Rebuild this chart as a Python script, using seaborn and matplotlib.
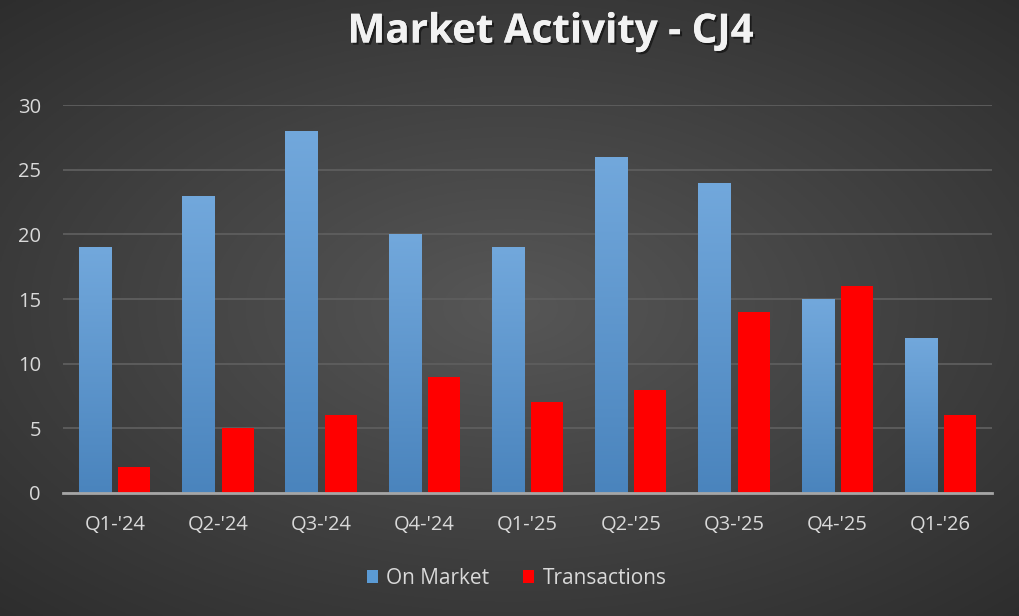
import numpy as np
import pandas as pd
import matplotlib
matplotlib.use("Agg")
import matplotlib.pyplot as plt
import matplotlib.patheffects as pe
from matplotlib.patches import Patch
import seaborn as sns

# Chart data
quarters = ["Q1-'24", "Q2-'24", "Q3-'24", "Q4-'24", "Q1-'25", "Q2-'25", "Q3-'25", "Q4-'25", "Q1-'26"]
on_market = [19, 23, 28, 20, 19, 26, 24, 15, 12]
transactions = [2, 5, 6, 9, 7, 8, 14, 16, 6]

df = pd.DataFrame({
    "Quarter": quarters * 2,
    "Count": on_market + transactions,
    "Series": ["On Market"] * len(quarters) + ["Transactions"] * len(quarters),
})

sns.set_theme(style="white")
plt.rcParams["font.family"] = ["Open Sans", "DejaVu Sans"]

fig = plt.figure(figsize=(10.19, 6.16), dpi=100)

# radial gradient background
bg = fig.add_axes([0, 0, 1, 1], zorder=-10)
yy, xx = np.mgrid[-1:1:300j, -1:1:500j]
r = np.sqrt((xx * 0.85) ** 2 + (yy * 0.9) ** 2)
shade = 0.34 - 0.17 * np.clip(r, 0, 1.3) / 1.3
bg.imshow(np.dstack([shade] * 3), aspect="auto", extent=[0, 1, 0, 1])
bg.axis("off")

ax = fig.add_axes([0.062, 0.1997, 0.9115, 0.6298])
ax.patch.set_alpha(0)

colors = {"On Market": "#5B9BD5", "Transactions": "#FF0000"}
sns.barplot(data=df, x="Quarter", y="Count", hue="Series", palette=colors,
            width=0.76, gap=0.18, saturation=1, ax=ax, legend=False,
            edgecolor="none", linewidth=0)

# vertical gradient on the blue bars
blue = np.array([[0x72, 0xA8, 0xDC], [0x4A, 0x84, 0xBD]]) / 255
grad = np.linspace(0, 1, 256)[:, None, None]
grad_img = blue[0] * (1 - grad) + blue[1] * grad
grad_img = np.repeat(grad_img, 2, axis=1)
for bar in ax.containers[0]:
    x0, y0 = bar.get_x(), bar.get_y()
    w, h = bar.get_width(), bar.get_height()
    im = ax.imshow(grad_img, extent=[x0, x0 + w, y0, y0 + h], aspect="auto",
                   origin="upper", zorder=bar.get_zorder() + 0.1)
    im.set_clip_path(bar)

ax.set_xlim(-0.5, len(quarters) - 0.5)
ax.set_ylim(0, 30)
ax.set_yticks(range(0, 31, 5))
ax.yaxis.grid(True, color="#5E5E5E", linewidth=1.3)
ax.set_axisbelow(True)
for s in ["top", "right", "left"]:
    ax.spines[s].set_visible(False)
ax.spines["bottom"].set_color("#A6A6A6")
ax.spines["bottom"].set_linewidth(2)
ax.spines["bottom"].set_zorder(5)
ax.tick_params(axis="both", colors="#D9D9D9", labelsize=14.5, length=0)
ax.tick_params(axis="x", pad=16)
ax.tick_params(axis="y", pad=16)
ax.set_xlabel("")
ax.set_ylabel("")

fig.text(0.54, 0.948, "Market Activity - CJ4", ha="center", va="center",
         fontsize=29, fontweight="bold", color="#F2F2F2",
         path_effects=[pe.withSimplePatchShadow(offset=(1.5, -1.5), shadow_rgbFace="black", alpha=0.5), pe.Normal()])

handles = [Patch(facecolor="#5B9BD5", edgecolor="none", label="On Market"),
           Patch(facecolor="#FF0000", edgecolor="none", label="Transactions")]
fig.legend(handles=handles, loc="center", bbox_to_anchor=(0.507, 0.061), ncol=2,
           frameon=False, fontsize=15, labelcolor="#D9D9D9",
           handlelength=0.55, handleheight=0.55, handletextpad=0.4, columnspacing=1.6)

fig.savefig("out.png", dpi=100)
